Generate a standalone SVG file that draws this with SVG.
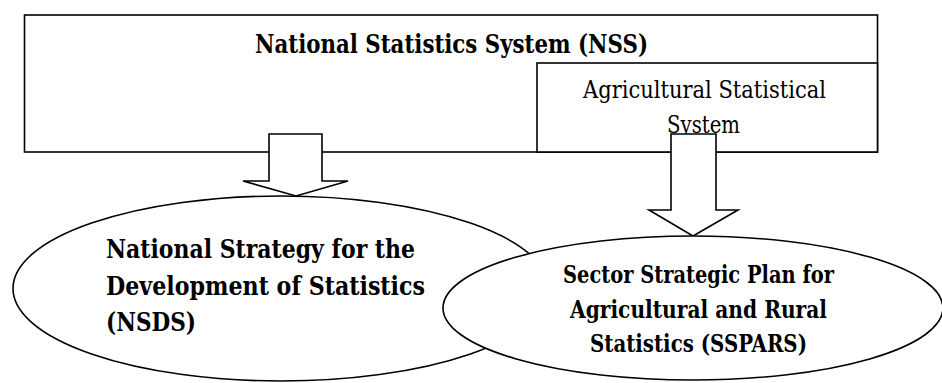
<svg xmlns="http://www.w3.org/2000/svg" width="942" height="383" viewBox="0 0 942 383">
<style>
.box{fill:#fff;stroke:#000;stroke-width:1.6}
.arrow{fill:#fff;stroke:#000;stroke-width:1.6;stroke-linejoin:miter}
text{font-family:'DejaVu Serif','Liberation Serif',serif;fill:#000}
.b{font-weight:bold}
</style>
<rect width="942" height="383" fill="#fff"/>
<g id="nss">
<rect class="box" x="24.5" y="15" width="853" height="137"/>
<text class="b" x="451.5" y="53" font-size="26" text-anchor="middle" textLength="393" lengthAdjust="spacingAndGlyphs">National Statistics System (NSS)</text>
</g>
<g id="ass">
<rect class="box" x="537" y="63" width="340.5" height="89"/>
<text x="704.5" y="98" font-size="24" text-anchor="middle" textLength="243" lengthAdjust="spacingAndGlyphs">Agricultural Statistical</text>
<text x="703.5" y="133" font-size="24" text-anchor="middle" textLength="73" lengthAdjust="spacingAndGlyphs">System</text>
</g>
<g id="connectors">
<path class="arrow" d="M269 134 H322 V181 H348 L296 196 L243 181 H269 Z"/>
<path class="arrow" d="M671 134 H716 V210 H738 L693 236 L649 210 H671 Z"/>
</g>
<g id="nsds">
<ellipse class="box" cx="281" cy="288.5" rx="268" ry="92.5"/>
<text class="b" x="106" y="258" font-size="26" textLength="309" lengthAdjust="spacingAndGlyphs">National Strategy for the</text>
<text class="b" x="106" y="295" font-size="26" textLength="319" lengthAdjust="spacingAndGlyphs">Development of Statistics</text>
<text class="b" x="106" y="331" font-size="26" textLength="90" lengthAdjust="spacingAndGlyphs">(NSDS)</text>
</g>
<g id="sspars">
<ellipse class="box" cx="693" cy="308" rx="250" ry="72"/>
<text class="b" x="698.5" y="283" font-size="23.5" text-anchor="middle" textLength="271" lengthAdjust="spacingAndGlyphs">Sector Strategic Plan for</text>
<text class="b" x="698.5" y="318" font-size="23.5" text-anchor="middle" textLength="257" lengthAdjust="spacingAndGlyphs">Agricultural and Rural</text>
<text class="b" x="698.5" y="352" font-size="23.5" text-anchor="middle" textLength="217" lengthAdjust="spacingAndGlyphs">Statistics (SSPARS)</text>
</g>
</svg>
